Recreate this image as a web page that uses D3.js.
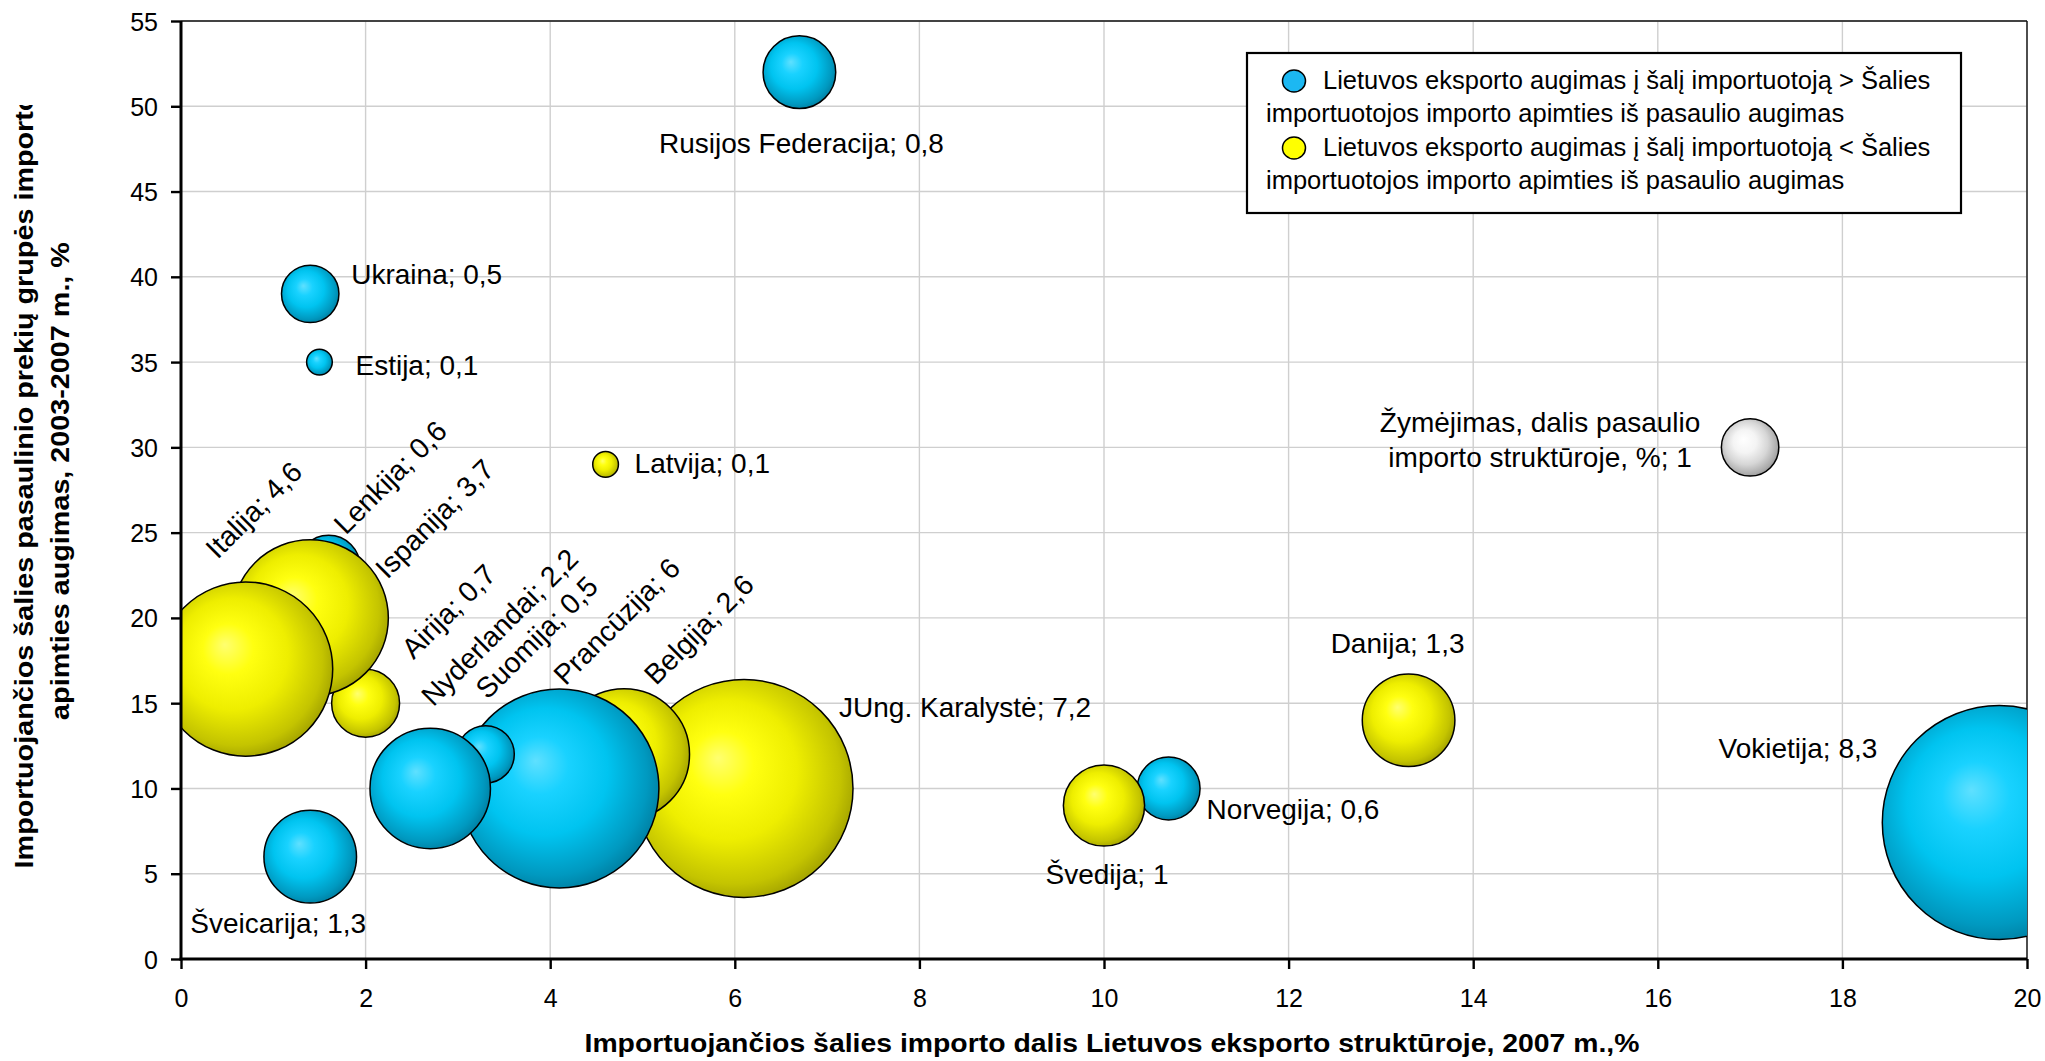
<!DOCTYPE html>
<html>
<head>
<meta charset="utf-8">
<script src="https://cdn.jsdelivr.net/npm/d3@7"></script>
<style>
  html, body { margin: 0; padding: 0; background: #ffffff; }
  svg { display: block; }
  text { font-family: "Liberation Sans", Arial, sans-serif; fill: #000; }
</style>
</head>
<body>
<svg id="chart" width="2045" height="1061"></svg>
<script>
// ---------------- DATA ----------------
const countries = ["Vokietija", "Danija", "Norvegija", "Švedija", "Rusijos Federacija", "JUng. Karalystė",
  "Belgija", "Latvija", "Prancūzija", "Suomija", "Nyderlandai", "Airija", "Lenkija", "Estija",
  "Ispanija", "Ukraina", "Šveicarija", "Italija"];
// Importuojančios šalies importo dalis Lietuvos eksporto struktūroje, 2007 m., %
const exportShare = [19.7, 13.3, 10.7, 10.0, 6.7, 6.1, 4.8, 4.6, 4.1, 3.3, 2.7, 2.0, 1.6, 1.5, 1.4, 1.4, 1.4, 0.7];
// Importuojančios šalies pasaulinio prekių grupės importo apimties augimas, 2003-2007 m., %
const importGrowth = [8, 14, 10, 9, 52, 10, 12, 29, 10, 12, 10, 15, 23, 35, 20, 39, 6, 17];
// dalis pasaulio importo struktūroje, % (bubble size)
const worldShare = [8.3, 1.3, 0.6, 1, 0.8, 7.2, 2.6, 0.1, 6, 0.5, 2.2, 0.7, 0.6, 0.1, 3.7, 0.5, 1.3, 4.6];
// ">" : Lietuvos eksporto augimas > šalies importo augimas (blue), "<" : yellow
const growthGroup = [">", "<", ">", "<", ">", "<", "<", "<", ">", ">", ">", "<", ">", ">", "<", ">", ">", "<"];

// reference (key) bubble
const keyLabelLines = ["Žymėjimas, dalis pasaulio", "importo struktūroje, %; 1"];
const keyX = [17];
const keyY = [30];
const keyDrawnSize = [0.5];

const legendLines = [
  ["Lietuvos eksporto augimas į šalį importuotoją > Šalies", "importuotojos importo apimties iš pasaulio augimas"],
  ["Lietuvos eksporto augimas į šalį importuotoją < Šalies", "importuotojos importo apimties iš pasaulio augimas"]
];
const legendGroups = [">", "<"];

const xTickValues = [0, 2, 4, 6, 8, 10, 12, 14, 16, 18, 20];
const xTickLabels = ["0", "2", "4", "6", "8", "10", "12", "14", "16", "18", "20"];
const yTickValues = [0, 5, 10, 15, 20, 25, 30, 35, 40, 45, 50, 55];
const yTickLabels = ["0", "5", "10", "15", "20", "25", "30", "35", "40", "45", "50", "55"];

const xTitle = "Importuojančios šalies importo dalis Lietuvos eksporto struktūroje, 2007 m.,%";
const yTitleLines = ["Importuojančios šalies pasaulinio prekių grupės importo", "apimties augimas, 2003-2007 m., %"];

// ---------------- LAYOUT (label placement, px relative to bubble centre) ----------------
const labelLayout = {
  "Vokietija": {anchor: "end", dx: -122, dy: -65, rot: 0},
  "Danija": {anchor: "middle", dx: -11, dy: -67, rot: 0},
  "Norvegija": {anchor: "start", dx: 38, dy: 31, rot: 0},
  "Švedija": {anchor: "middle", dx: 3, dy: 78, rot: 0},
  "Rusijos Federacija": {anchor: "middle", dx: 2, dy: 81, rot: 0},
  "JUng. Karalystė": {anchor: "start", dx: 95, dy: -71, rot: 0},
  "Belgija": {anchor: "start", dx: 32, dy: -68, rot: -45},
  "Latvija": {anchor: "start", dx: 29, dy: 9, rot: 0},
  "Prancūzija": {anchor: "start", dx: 6, dy: -102, rot: -45},
  "Suomija": {anchor: "start", dx: 2, dy: -54, rot: -45},
  "Nyderlandai": {anchor: "start", dx: 3, dy: -81, rot: -45},
  "Airija": {anchor: "start", dx: 48, dy: -43, rot: -45},
  "Lenkija": {anchor: "start", dx: 17, dy: -31, rot: -45},
  "Estija": {anchor: "start", dx: 36, dy: 13, rot: 0},
  "Ispanija": {anchor: "start", dx: 77, dy: -38, rot: -45},
  "Ukraina": {anchor: "start", dx: 41, dy: -10, rot: 0},
  "Šveicarija": {anchor: "middle", dx: -32, dy: 76, rot: 0},
  "Italija": {anchor: "start", dx: -28, dy: -109, rot: -45}
};

const W = 2045, H = 1061;
const plot = {left: 181, right: 2027, top: 21, bottom: 959};

const svg = d3.select("#chart");
svg.append("rect").attr("width", W).attr("height", H).attr("fill", "#fff");

const x = d3.scaleLinear().domain([0, 20]).range([plot.left, plot.right]);
const y = d3.scaleLinear().domain([0, 55]).range([plot.bottom, plot.top]);
const r = d3.scaleSqrt().domain([0, 8.3]).range([0, 117]);

const defs = svg.append("defs");
function grad(id, stops) {
  const g = defs.append("radialGradient").attr("id", id)
    .attr("cx", "0.46").attr("cy", "0.46").attr("r", "0.58")
    .attr("fx", "0.38").attr("fy", "0.36");
  stops.forEach(s => g.append("stop").attr("offset", s[0]).attr("stop-color", s[1]));
}
grad("gBlue", [[0, "#5fe0ff"], [0.25, "#19d2ff"], [0.55, "#00c4f0"], [0.85, "#0099c0"], [1, "#007a9c"]]);
grad("gYellow", [[0, "#ffff70"], [0.25, "#ffff10"], [0.55, "#eeee00"], [0.85, "#c4c400"], [1, "#9c9c00"]]);
grad("gWhite", [[0, "#ffffff"], [0.35, "#f4f4f4"], [0.65, "#d6d6d6"], [0.9, "#aaaaaa"], [1, "#8c8c8c"]]);

defs.append("clipPath").attr("id", "plotClip").append("rect")
  .attr("x", plot.left).attr("y", plot.top)
  .attr("width", plot.right - plot.left).attr("height", plot.bottom - plot.top);
defs.append("clipPath").attr("id", "yTitleClip").append("rect")
  .attr("x", 0).attr("y", 105).attr("width", 120).attr("height", 900);

// gridlines
const grid = svg.append("g");
grid.selectAll("line.v").data(xTickValues).enter().append("line")
  .attr("x1", d => x(d)).attr("x2", d => x(d)).attr("y1", plot.top).attr("y2", plot.bottom)
  .attr("stroke", "#cfcfcf").attr("stroke-width", 1.4);
grid.selectAll("line.h").data(yTickValues).enter().append("line")
  .attr("x1", plot.left).attr("x2", plot.right).attr("y1", d => y(d)).attr("y2", d => y(d))
  .attr("stroke", "#cfcfcf").attr("stroke-width", 1.4);

// plot border (top & right)
svg.append("line").attr("x1", plot.left).attr("x2", plot.right).attr("y1", plot.top).attr("y2", plot.top)
  .attr("stroke", "#111").attr("stroke-width", 1.6);
svg.append("line").attr("x1", plot.right).attr("x2", plot.right).attr("y1", plot.top).attr("y2", plot.bottom)
  .attr("stroke", "#111").attr("stroke-width", 1.4);

// bubbles
const data = countries.map((c, i) => ({
  name: c, x: exportShare[i], y: importGrowth[i], s: worldShare[i], g: growthGroup[i]
}));
const bubbles = svg.append("g").attr("clip-path", "url(#plotClip)");
bubbles.selectAll("circle").data(data).enter().append("circle")
  .attr("cx", d => x(d.x)).attr("cy", d => y(d.y)).attr("r", d => r(d.s))
  .attr("fill", d => d.g === ">" ? "url(#gBlue)" : "url(#gYellow)")
  .attr("stroke", "#000").attr("stroke-width", 1.5);
bubbles.selectAll("circle.key").data(keyX).enter().append("circle").attr("class", "key")
  .attr("cx", (d, i) => x(d)).attr("cy", (d, i) => y(keyY[i])).attr("r", (d, i) => r(keyDrawnSize[i]))
  .attr("fill", "url(#gWhite)").attr("stroke", "#000").attr("stroke-width", 1.5);

// axes
const xAxis = d3.axisBottom(x).tickValues(xTickValues).tickFormat((d, i) => xTickLabels[i]).tickSize(10).tickPadding(20);
const yAxis = d3.axisLeft(y).tickValues(yTickValues).tickFormat((d, i) => yTickLabels[i]).tickSize(10).tickPadding(13);
const gx = svg.append("g").attr("transform", `translate(0,${plot.bottom})`).call(xAxis);
const gy = svg.append("g").attr("transform", `translate(${plot.left},0)`).call(yAxis);
[gx, gy].forEach(g => {
  g.select(".domain").remove();
  g.selectAll(".tick line").attr("stroke", "#000").attr("stroke-width", 2.4);
  g.selectAll(".tick text").attr("font-size", 25).attr("font-family", "Liberation Sans, Arial, sans-serif").attr("fill", "#000");
});
gy.selectAll(".tick text").attr("dy", "0.36em");
// axis lines
svg.append("line").attr("x1", plot.left).attr("x2", plot.left).attr("y1", plot.top).attr("y2", plot.bottom + 1.5)
  .attr("stroke", "#000").attr("stroke-width", 3);
svg.append("line").attr("x1", plot.left - 1.5).attr("x2", plot.right).attr("y1", plot.bottom).attr("y2", plot.bottom)
  .attr("stroke", "#000").attr("stroke-width", 3.2);

// data labels
const fmt = v => String(v).replace(".", ",");
const labels = svg.append("g");
data.forEach(d => {
  const L = labelLayout[d.name];
  const px = x(d.x) + L.dx, py = y(d.y) + L.dy;
  labels.append("text")
    .attr("transform", `translate(${px},${py}) rotate(${L.rot})`)
    .attr("text-anchor", L.anchor)
    .attr("font-size", L.rot ? 28.5 : 28)
    .text(`${d.name}; ${fmt(d.s)}`);
});
// key bubble label
const kt = labels.append("text").attr("text-anchor", "middle").attr("font-size", 28);
keyLabelLines.forEach((line, i) => {
  kt.append("tspan").attr("x", x(keyX[0]) - 210).attr("y", y(keyY[0]) - 15 + i * 35).text(line);
});

// legend
const lg = svg.append("g");
lg.append("rect").attr("x", 1247).attr("y", 53).attr("width", 714).attr("height", 160)
  .attr("fill", "#fff").attr("stroke", "#000").attr("stroke-width", 2.2);
legendLines.forEach((lines, i) => {
  const base = 89 + i * 67;
  lg.append("ellipse").attr("cx", 1294).attr("cy", base - 8).attr("rx", 11.5).attr("ry", 11)
    .attr("fill", legendGroups[i] === ">" ? "#1cb8f2" : "#ffff00").attr("stroke", "#000").attr("stroke-width", 1.5);
  lg.append("text").attr("x", 1323).attr("y", base).attr("font-size", 25.5).text(lines[0]);
  lg.append("text").attr("x", 1266).attr("y", base + 33).attr("font-size", 25.5).text(lines[1]);
});

// axis titles
const xt = svg.append("text").attr("x", 1112).attr("y", 1052).attr("text-anchor", "middle")
  .attr("font-size", 25).attr("font-weight", "bold").text(xTitle);
xt.attr("textLength", 1055).attr("lengthAdjust", "spacingAndGlyphs");

const yt = svg.append("g").attr("clip-path", "url(#yTitleClip)");
yTitleLines.forEach((line, i) => {
  const t = yt.append("text").attr("transform", `translate(${i === 0 ? 33 : 69},481) rotate(-90)`)
    .attr("text-anchor", "middle").attr("font-size", 25).attr("font-weight", "bold").text(line);
  const len = t.node().getComputedTextLength();
  t.attr("textLength", len * 1.15).attr("lengthAdjust", "spacingAndGlyphs");
});
</script>
</body>
</html>
